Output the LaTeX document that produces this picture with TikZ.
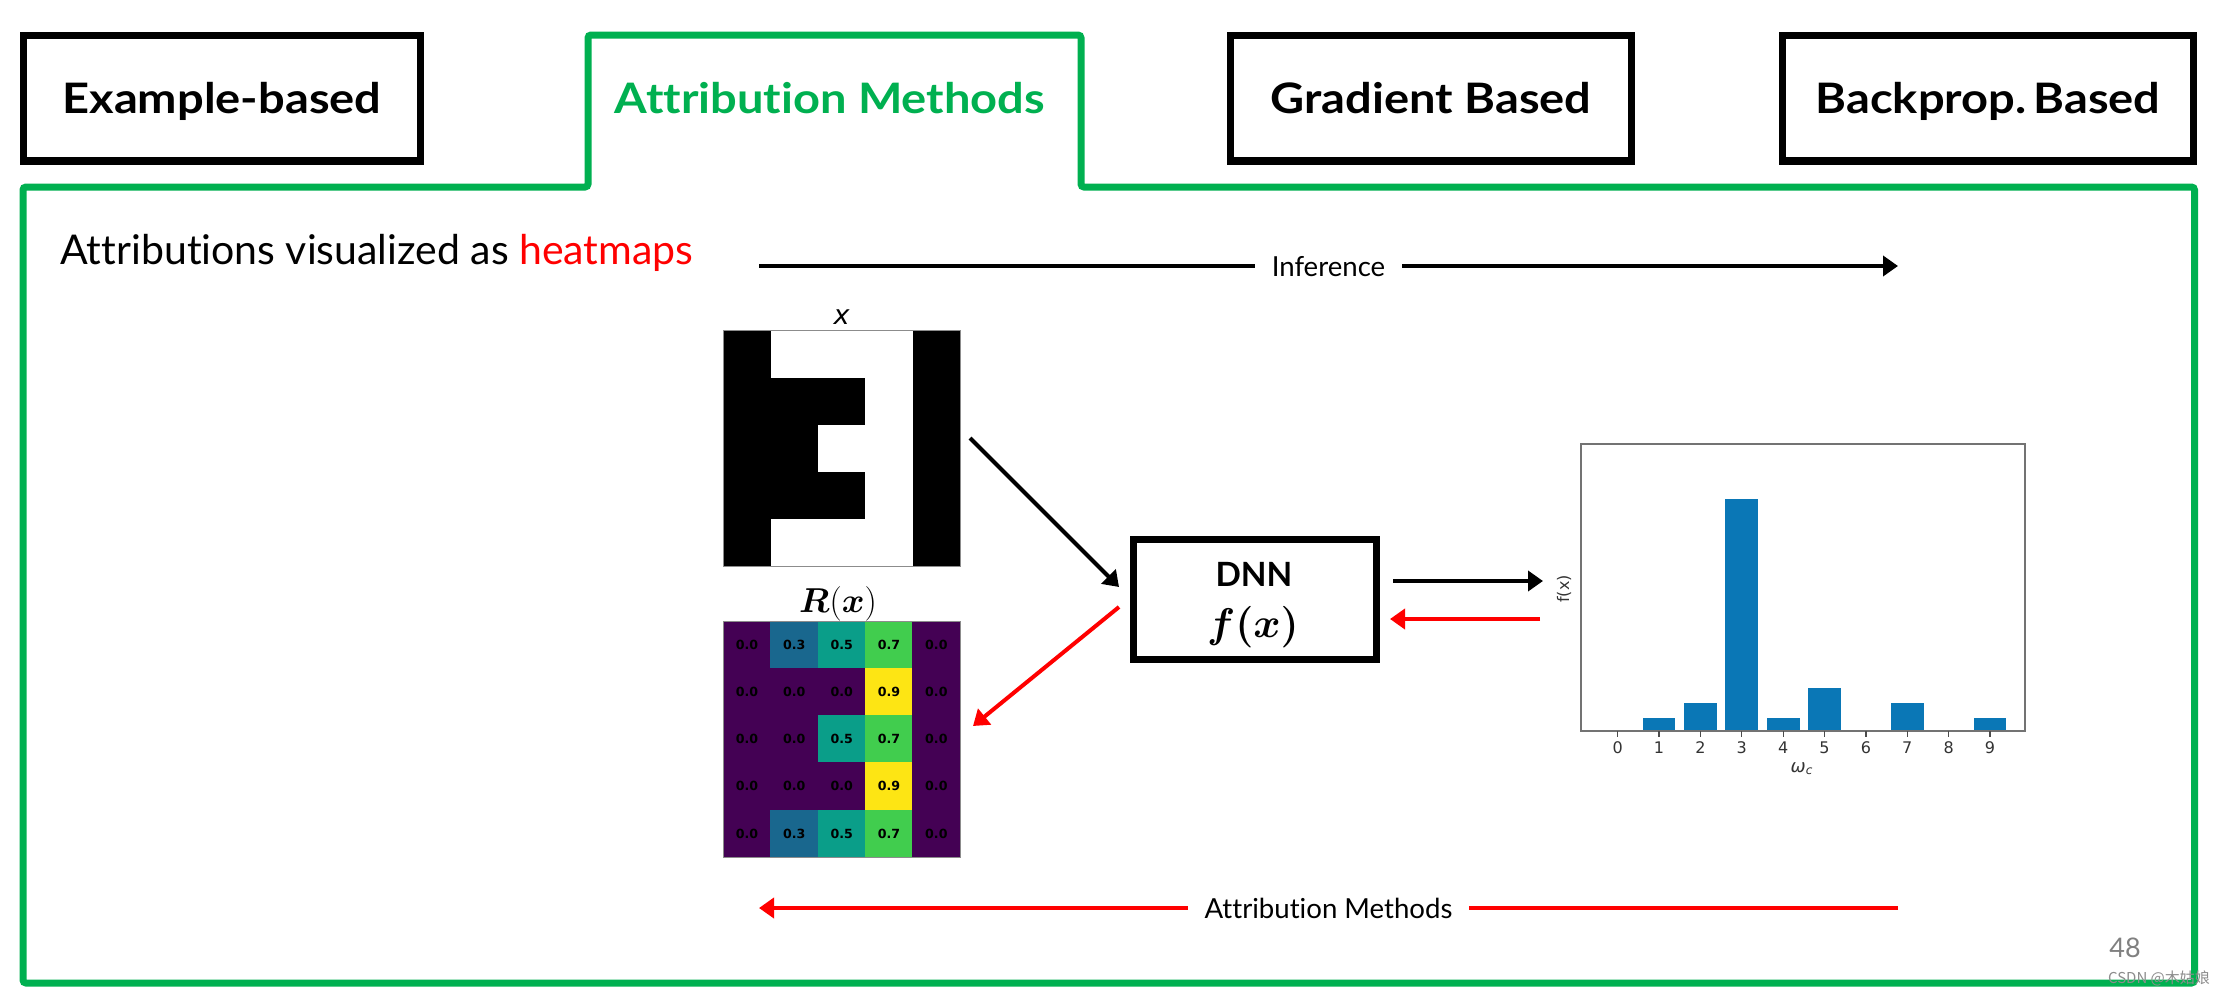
\documentclass[tikz,border=0pt]{standalone}
\usepackage{fontspec}
\usepackage{amsmath}
\usepackage{bm}
\setmainfont{Lato}[Ligatures=NoCommon]
\newfontfamily\tabfamily{Lato}[FakeStretch=1.12, Ligatures=NoCommon]
\newfontfamily\dejavu{DejaVu Sans}
\newfontfamily\cjkfont{Noto Sans CJK SC}
\usetikzlibrary{arrows.meta}
\definecolor{pptgreen}{RGB}{0,176,80}
\definecolor{hm0}{RGB}{68,1,84}
\definecolor{hm3}{RGB}{25,103,142}
\definecolor{hm5}{RGB}{10,158,137}
\definecolor{hm7}{RGB}{65,205,78}
\definecolor{hm9}{RGB}{253,229,20}
\definecolor{barblue}{RGB}{10,119,182}
\definecolor{pagegray}{RGB}{128,128,128}
\newcommand\mytabfont{\tabfamily\bfseries\fontsize{21}{24}\selectfont}
\newcommand\myflowfont{\fontsize{13.8}{16}\selectfont}
\newcommand\myhmfont{\dejavu\bfseries\fontsize{6.3}{7}\selectfont}
\newcommand\mytickfont{\dejavu\fontsize{8}{10}\selectfont}
\begin{document}
\begin{tikzpicture}[x=0.5pt,y=-0.5pt,
  tabbox/.style={draw=black, line width=3.75pt, inner sep=0pt, font=\mytabfont, text height=15pt, text depth=0pt},
  tablabel/.style={inner sep=0pt, font=\mytabfont, text height=15pt, text depth=0pt},
  frameline/.style={draw=pptgreen, line width=3.5pt, rounded corners=1.5pt},
  arrowline/.style={line width=2pt, -{Triangle[length=7.5pt,width=10pt]}},
  blackarrow/.style={arrowline, draw=black},
  redarrow/.style={arrowline, draw=red},
  flowlabel/.style={fill=white, inner xsep=8.5pt, inner ysep=3pt, font=\myflowfont, text height=10pt, text depth=0pt},
  hmcell/.style={inner sep=0pt, minimum width=23.67pt, minimum height=23.56pt, font=\myhmfont, text=black},
  ticklabel/.style={inner sep=0pt, font=\mytickfont, text=black!80},
  imgframe/.style={draw=black!45, line width=0.5pt}
]
\useasboundingbox (0,0) rectangle (2224,996);
\fill[white] (0,0) rectangle (2224,996);

% ---- top tabs ----
\node[tabbox, minimum width=198.5pt, minimum height=62.75pt] (tabex) at (222,98.3) {Example-based};
\node[tabbox, minimum width=200.5pt, minimum height=62.75pt] (tabgrad) at (1431,98.3) {Gradient Based};
\node[tabbox, minimum width=205.5pt, minimum height=62.75pt] (tabback) at (1988,98.3) {Backprop.\,Based};
\node[tablabel, text=pptgreen] (tabattr) at (830,98) {Attribution Methods};

% ---- green frame with active tab ----
\draw[frameline] (588,187) -- (23,187) -- (23,983) -- (2194.5,983) -- (2194.5,187)
  -- (1081,187) -- (1081,35) -- (588,35) -- cycle;

% ---- heading ----
\node[anchor=base west, inner sep=0pt, font=\fontsize{20.5}{24}\selectfont] (heading) at (60,264)
  {Attributions visualized as \textcolor{red}{heatmaps}};

% ---- inference / attribution arrows ----
\coordinate (infL) at (759,266);
\coordinate (infR) at (1898,266);
\draw[blackarrow] (infL) -- node[flowlabel] (inftext) {Inference} (infR);
\coordinate (attR) at (1898,908);
\coordinate (attL) at (759,908);
\draw[redarrow] (attR) -- node[flowlabel] (atttext) {Attribution Methods} (attL);

% ---- input image x ----
\fill[white] (723.3,330.6) rectangle (960,566.3);
\fill[black] (723.3,330.6) rectangle (770.6,566.3);
\fill[black] (912.7,330.6) rectangle (960,566.3);
\fill[black] (770.6,377.7) rectangle (865.4,424.9);
\fill[black] (770.6,424.9) rectangle (818,472);
\fill[black] (770.6,472) rectangle (865.4,519.2);
\draw[imgframe] (723.3,330.6) rectangle (960,566.3);
\node[inner sep=0pt, font=\dejavu\itshape\fontsize{13.5}{15}\selectfont] (xlabel) at (841.7,317.5) {x};

% ---- heatmap R(x) ----
\node[inner sep=0pt] (rlabel) at (838,604) {\fontsize{16.5}{18}\selectfont$\bm{R}(\bm{x})$};
\foreach \c/\r/\v in {0/0/0,1/0/3,2/0/5,3/0/7,4/0/0,
                      0/1/0,1/1/0,2/1/0,3/1/9,4/1/0,
                      0/2/0,1/2/0,2/2/5,3/2/7,4/2/0,
                      0/3/0,1/3/0,2/3/0,3/3/9,4/3/0,
                      0/4/0,1/4/3,2/4/5,3/4/7,4/4/0}{
  \node[hmcell, fill=hm\v, draw=hm\v, line width=0.4pt] (hm\c\r) at ({747+47.34*\c},{645+47.12*\r}) {0.\v};
}
\draw[imgframe] (723.3,621.4) rectangle (960,857);

% ---- DNN box ----
\node[draw=black, line width=3.5pt, minimum width=121.5pt, minimum height=60pt, inner sep=0pt] (dnn) at (1255,599.5) {};
\node[inner sep=0pt, font=\bfseries\fontsize{16.7}{20}\selectfont, text height=12pt, text depth=0pt] (dnntext) at (1254,574.7) {DNN};
\node[inner sep=0pt, font=\fontsize{21}{24}\selectfont] (dnnf) at (1253,627.5) {$\bm{f(x)}$};

% ---- connectors around DNN ----
\coordinate (xout) at (970,438);
\coordinate (dnnin) at (1119,587);
\draw[blackarrow] (xout) -- (dnnin);
\coordinate (dnnback) at (1119,607);
\coordinate (hmin) at (973,726);
\draw[redarrow] (dnnback) -- (hmin);
\coordinate (dnnout) at (1393,581);
\coordinate (chartin) at (1543,581);
\draw[blackarrow] (dnnout) -- (chartin);
\coordinate (chartout) at (1540,619);
\coordinate (dnnret) at (1390,619);
\draw[redarrow] (chartout) -- (dnnret);

% ---- bar chart ----
\foreach \i/\t in {1/717.7,2/703.3,3/499.3,4/717.7,5/688.3,7/703.3,9/717.7}{
  \fill[barblue] ({1617.7+41.37*\i-16.35},\t) rectangle ({1617.7+41.37*\i+16.35},731);
}
\draw[draw=black!55, line width=1.2pt] (1581,444) rectangle (2025,731);
\foreach \i in {0,...,9}{
  \draw[black!70, line width=0.6pt] ({1617.7+41.37*\i},731) -- ++(0,6);
  \node[ticklabel] (tick\i) at ({1617.7+41.37*\i},747.5) {\i};
}
\node[inner sep=0pt, font=\dejavu\itshape\fontsize{9}{11}\selectfont, text=black!80] (wlabel) at (1802,769) {ω\textsubscript{c}};
\node[inner sep=0pt, rotate=90, font=\dejavu\fontsize{8}{10}\selectfont, text=black!80] (ylabel) at (1564,589) {f(x)};

% ---- page number and watermark ----
\node[inner sep=0pt, font=\fontsize{13.5}{16}\selectfont, text=pagegray] (pagenum) at (2125,947.5) {48};
\node[inner sep=0pt, font=\cjkfont\fontsize{7.5}{9}\selectfont, text=black!45] (mark) at (2159,978) {CSDN @木姑娘};
\end{tikzpicture}
\end{document}
